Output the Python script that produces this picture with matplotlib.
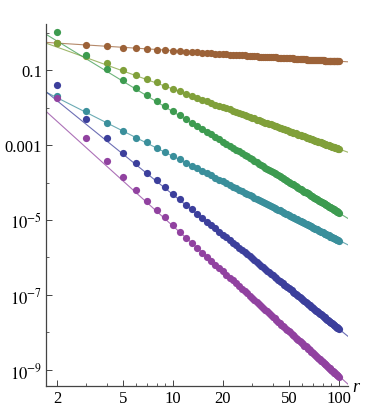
"""Log-log decay of five correlation series against distance r, with power-law fits."""

import matplotlib

matplotlib.use("Agg")
import matplotlib.pyplot as plt
import numpy as np
from matplotlib.ticker import FixedLocator, NullFormatter

# distances r = 2 .. 100
r_values = list(range(2, 101))

# log10 of each series (r = 2 .. 100)
brown_log = [
    -0.28, -0.33, -0.37, -0.40, -0.42, -0.44, -0.46, -0.47, -0.49,
    -0.50, -0.51, -0.52, -0.53, -0.54, -0.55, -0.55, -0.56, -0.57, -0.57,
    -0.58, -0.59, -0.59, -0.60, -0.60, -0.61, -0.61, -0.62, -0.62, -0.62,
    -0.63, -0.63, -0.64, -0.64, -0.64, -0.65, -0.65, -0.65, -0.66, -0.66,
    -0.66, -0.66, -0.67, -0.67, -0.67, -0.68, -0.68, -0.68, -0.68, -0.69,
    -0.69, -0.69, -0.69, -0.70, -0.70, -0.70, -0.70, -0.70, -0.71, -0.71,
    -0.71, -0.71, -0.71, -0.72, -0.72, -0.72, -0.72, -0.72, -0.72, -0.73,
    -0.73, -0.73, -0.73, -0.73, -0.74, -0.74, -0.74, -0.74, -0.74, -0.74,
    -0.74, -0.75, -0.75, -0.75, -0.75, -0.75, -0.75, -0.75, -0.76, -0.76,
    -0.76, -0.76, -0.76, -0.76, -0.76, -0.77, -0.77, -0.77, -0.77, -0.77,
]
olive_log = [
    -0.28, -0.63, -0.82, -1.00, -1.13, -1.24, -1.33, -1.42, -1.51,
    -1.57, -1.63, -1.69, -1.74, -1.79, -1.83, -1.88, -1.92, -1.95, -1.99,
    -2.02, -2.05, -2.09, -2.12, -2.14, -2.17, -2.20, -2.22, -2.25, -2.27,
    -2.29, -2.32, -2.34, -2.36, -2.38, -2.40, -2.42, -2.43, -2.45, -2.47,
    -2.49, -2.50, -2.52, -2.54, -2.55, -2.57, -2.58, -2.60, -2.61, -2.63,
    -2.64, -2.65, -2.67, -2.68, -2.69, -2.70, -2.72, -2.73, -2.74, -2.75,
    -2.76, -2.77, -2.79, -2.80, -2.81, -2.82, -2.83, -2.84, -2.85, -2.86,
    -2.87, -2.88, -2.89, -2.90, -2.91, -2.92, -2.93, -2.93, -2.94, -2.95,
    -2.96, -2.97, -2.98, -2.99, -2.99, -3.00, -3.01, -3.02, -3.03, -3.03,
    -3.04, -3.05, -3.06, -3.06, -3.07, -3.08, -3.09, -3.09, -3.10, -3.11,
]
green_log = [
    0.02, -0.61, -0.98, -1.27, -1.49, -1.67, -1.82, -1.97, -2.09,
    -2.20, -2.30, -2.40, -2.49, -2.57, -2.64, -2.71, -2.78, -2.85, -2.91,
    -2.96, -3.02, -3.07, -3.12, -3.17, -3.21, -3.26, -3.30, -3.34, -3.38,
    -3.42, -3.46, -3.50, -3.53, -3.56, -3.60, -3.63, -3.66, -3.69, -3.72,
    -3.75, -3.78, -3.81, -3.83, -3.86, -3.89, -3.91, -3.94, -3.96, -3.98,
    -4.01, -4.03, -4.05, -4.07, -4.10, -4.12, -4.14, -4.16, -4.18, -4.20,
    -4.22, -4.24, -4.26, -4.27, -4.29, -4.31, -4.33, -4.35, -4.36, -4.38,
    -4.40, -4.41, -4.43, -4.45, -4.46, -4.48, -4.49, -4.51, -4.52, -4.54,
    -4.55, -4.57, -4.58, -4.59, -4.61, -4.62, -4.64, -4.65, -4.66, -4.68,
    -4.69, -4.70, -4.71, -4.73, -4.74, -4.75, -4.76, -4.78, -4.79, -4.80,
]
teal_log = [
    -1.69, -2.10, -2.40, -2.62, -2.80, -2.93, -3.08, -3.18, -3.29,
    -3.38, -3.47, -3.55, -3.62, -3.69, -3.75, -3.81, -3.87, -3.92, -3.97,
    -4.02, -4.06, -4.11, -4.15, -4.19, -4.23, -4.27, -4.30, -4.34, -4.37,
    -4.40, -4.43, -4.46, -4.49, -4.52, -4.55, -4.57, -4.60, -4.63, -4.65,
    -4.67, -4.70, -4.72, -4.74, -4.77, -4.79, -4.81, -4.83, -4.85, -4.87,
    -4.89, -4.91, -4.93, -4.95, -4.96, -4.98, -5.00, -5.02, -5.03, -5.05,
    -5.06, -5.08, -5.10, -5.11, -5.13, -5.14, -5.16, -5.17, -5.19, -5.20,
    -5.21, -5.23, -5.24, -5.25, -5.27, -5.28, -5.29, -5.31, -5.32, -5.33,
    -5.34, -5.36, -5.37, -5.38, -5.39, -5.40, -5.41, -5.42, -5.44, -5.45,
    -5.46, -5.47, -5.48, -5.49, -5.50, -5.51, -5.52, -5.53, -5.54, -5.55,
]
blue_log = [
    -1.40, -2.31, -2.82, -3.20, -3.49, -3.75, -3.93, -4.13, -4.30,
    -4.45, -4.59, -4.71, -4.83, -4.94, -5.04, -5.13, -5.22, -5.31, -5.39,
    -5.46, -5.54, -5.61, -5.67, -5.74, -5.80, -5.86, -5.91, -5.97, -6.02,
    -6.07, -6.12, -6.17, -6.22, -6.26, -6.31, -6.35, -6.39, -6.43, -6.47,
    -6.51, -6.55, -6.59, -6.62, -6.66, -6.69, -6.73, -6.76, -6.79, -6.82,
    -6.85, -6.88, -6.91, -6.94, -6.97, -7.00, -7.03, -7.06, -7.08, -7.11,
    -7.13, -7.16, -7.19, -7.21, -7.23, -7.26, -7.28, -7.31, -7.33, -7.35,
    -7.37, -7.39, -7.42, -7.44, -7.46, -7.48, -7.50, -7.52, -7.54, -7.56,
    -7.58, -7.60, -7.62, -7.64, -7.66, -7.67, -7.69, -7.71, -7.73, -7.74,
    -7.76, -7.78, -7.80, -7.81, -7.83, -7.85, -7.86, -7.88, -7.89, -7.91,
]
purple_log = [
    -1.75, -2.81, -3.42, -3.86, -4.21, -4.49, -4.73, -4.93, -5.13,
    -5.33, -5.48, -5.62, -5.75, -5.87, -5.98, -6.09, -6.19, -6.28, -6.37,
    -6.46, -6.54, -6.61, -6.69, -6.76, -6.83, -6.89, -6.96, -7.02, -7.08,
    -7.14, -7.19, -7.24, -7.30, -7.35, -7.40, -7.44, -7.49, -7.54, -7.58,
    -7.62, -7.67, -7.71, -7.75, -7.79, -7.82, -7.86, -7.90, -7.93, -7.97,
    -8.00, -8.04, -8.07, -8.10, -8.14, -8.17, -8.20, -8.23, -8.26, -8.29,
    -8.32, -8.35, -8.37, -8.40, -8.43, -8.45, -8.48, -8.51, -8.53, -8.56,
    -8.58, -8.61, -8.63, -8.65, -8.68, -8.70, -8.72, -8.75, -8.77, -8.79,
    -8.81, -8.83, -8.85, -8.88, -8.90, -8.92, -8.94, -8.96, -8.98, -9.00,
    -9.02, -9.03, -9.05, -9.07, -9.09, -9.11, -9.13, -9.14, -9.16, -9.18,
]

# power-law fits: log10(y) = intercept + slope * log10(r)
fit_intercepts = [-0.193, 0.096, 0.59, -1.06, -0.735, -1.16]
fit_slopes = [-0.285, -1.60, -2.70, -2.24, -3.586, -4.00]

series_logs = [brown_log, olive_log, green_log, teal_log, blue_log, purple_log]
colors = ["#9c6238", "#80a03a", "#3d9b50", "#3a8f9b", "#3c3f9c", "#9142a0"]

x_major = [2, 5, 10, 20, 50, 100]
x_minor = [3, 4, 6, 7, 8, 9, 30, 40, 60, 70, 80, 90]
y_major = [1e-9, 1e-7, 1e-5, 1e-3, 1e-1]
y_major_labels = [r"$10^{-9}$", r"$10^{-7}$", r"$10^{-5}$", "0.001", "0.1"]
y_minor = [1e-8, 1e-6, 1e-4, 1e-2, 1.0]


def main():
    plt.rcParams["font.family"] = ["Liberation Serif", "DejaVu Serif"]
    plt.rcParams["mathtext.fontset"] = "stix"

    fig = plt.figure(figsize=(3.65, 4.10), dpi=100)
    ax = fig.add_axes([0.126, 0.056, 0.827, 0.883])
    ax.set_xscale("log")
    ax.set_yscale("log")
    x_lo, x_hi = 10 ** 0.235, 10 ** 2.054
    ax.set_xlim(x_lo, x_hi)
    ax.set_ylim(10 ** -9.43, 10 ** 0.23)

    r = np.array(r_values, dtype=float)
    r_line = np.array([x_lo, x_hi])
    for logs, b, m, color in zip(series_logs, fit_intercepts, fit_slopes, colors):
        ax.plot(r_line, 10 ** b * r_line ** m, color=color, lw=0.8, alpha=0.75, zorder=2)
        ax.plot(r, 10 ** np.array(logs), "o", ms=5.2, color=color, mec="none", zorder=3)

    for side in ("top", "right"):
        ax.spines[side].set_visible(False)
    for side in ("left", "bottom"):
        ax.spines[side].set_color("#444444")
        ax.spines[side].set_linewidth(0.9)

    ax.xaxis.set_major_locator(FixedLocator(x_major))
    ax.set_xticklabels([str(v) for v in x_major])
    ax.xaxis.set_minor_locator(FixedLocator(x_minor))
    ax.xaxis.set_minor_formatter(NullFormatter())
    ax.yaxis.set_major_locator(FixedLocator(y_major))
    ax.set_yticklabels(y_major_labels)
    ax.yaxis.set_minor_locator(FixedLocator(y_minor))
    ax.yaxis.set_minor_formatter(NullFormatter())

    ax.tick_params(which="major", direction="in", length=4, width=0.7, color="#444444",
                   labelsize=12, pad=3)
    ax.tick_params(which="minor", direction="in", length=2.2, width=0.6, color="#444444")

    ax.text(1.015, 0.0, "r", transform=ax.transAxes, fontsize=13, style="italic",
            ha="left", va="center")

    fig.savefig("out.png", dpi=100)


if __name__ == "__main__":
    main()
